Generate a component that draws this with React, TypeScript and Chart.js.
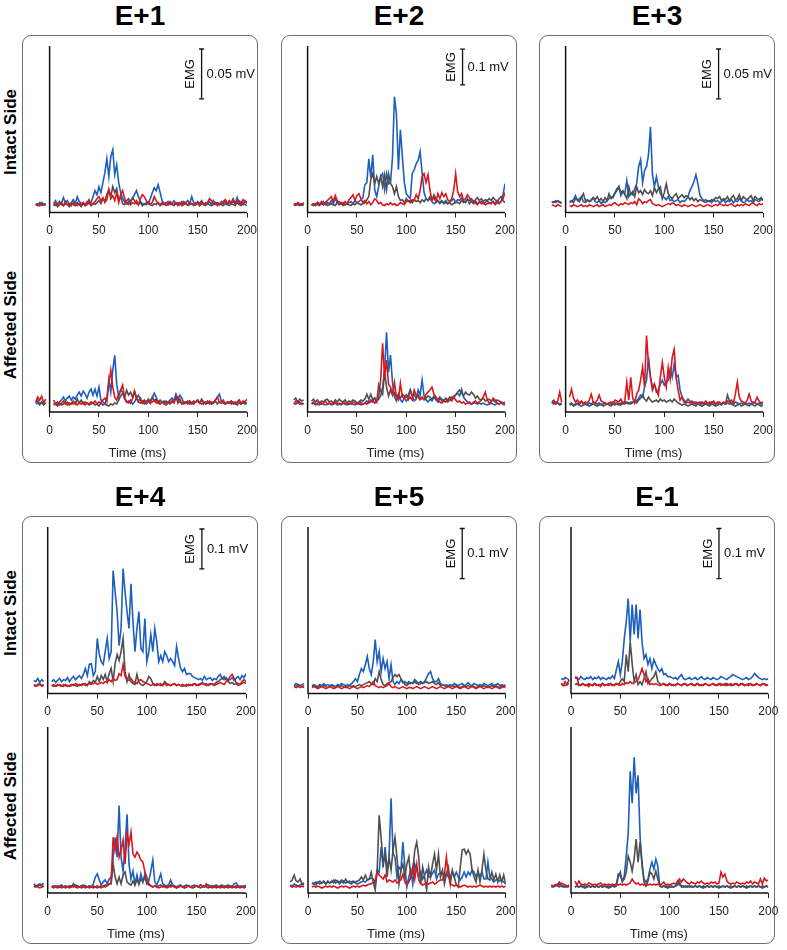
import React, { useEffect, useRef } from "react";
import { Chart, registerables } from "chart.js";

Chart.register(...registerables);

const FONT = '"Liberation Sans", Arial, Helvetica, sans-serif';
const RED = "#d7191e";
const GRAY = "#4f4f4f";
const BLUE = "#1c5fbe";

const TIME_TICKS = [0, 50, 100, 150, 200];
const X_MIN = -22;
const X_MAX = 200;

// sampling times (ms)
const POST_TIME = [
  4, 6, 8, 10, 12, 14, 16, 18, 20, 22,
  24, 26, 28, 30, 32, 34, 36, 38, 40, 42,
  44, 46, 48, 50, 52, 54, 56, 58, 60, 62,
  64, 66, 68, 70, 72, 74, 76, 78, 80, 82,
  84, 86, 88, 90, 92, 94, 96, 98, 100, 102,
  104, 106, 108, 110, 112, 114, 116, 118, 120, 122,
  124, 126, 128, 130, 132, 134, 136, 138, 140, 142,
  144, 146, 148, 150, 152, 154, 156, 158, 160, 162,
  164, 166, 168, 170, 172, 174, 176, 178, 180, 182,
  184, 186, 188, 190, 192, 194, 196, 198, 200,
];
const GAP_TIME = [0];
const PRE_E1 = [-14, -12, -10, -8, -6, -4];
const PRE_E2 = [-14, -12, -10, -8, -6, -4];
const PRE_E3 = [-14, -12, -10, -8, -6, -4];
const PRE_E4 = [-14, -12, -10, -8, -6, -4];
const PRE_E5 = [-18, -16, -14, -12, -10, -8, -6, -4];
const PRE_EM1 = [-20, -18, -16, -14, -12, -10, -8, -6, -4, -2];

// ---------- E+1 (µV) ----------
const e1IntactBlue = [9, 7, 10, 8, 9, 8, null,
  9, 12, 8, 11, 9, 15, 10, 12, 8, 10,
  13, 9, 16, 11, 9, 10, 8, 11, 9, 10,
  16, 22, 18, 26, 20, 30, 40, 54, 36, 56,
  63, 38, 48, 30, 20, 14, 11, 9, 8, 12,
  14, 18, 22, 16, 11, 9, 8, 10, 9, 14,
  20, 25, 22, 28, 20, 12, 9, 10, 8, 11,
  9, 12, 9, 10, 8, 11, 9, 10, 12, 9,
  16, 10, 8, 11, 9, 12, 8, 10, 9, 11,
  8, 12, 9, 10, 8, 11, 9, 12, 8, 10,
  9, 11, 9, 15, 9, 11, 8, 12, 9];
const e1IntactGray = [8, 9, 7, 10, 8, 7, null,
  7, 9, 6, 8, 10, 7, 9, 8, 6, 9,
  8, 7, 10, 8, 6, 9, 7, 8, 10, 7,
  9, 8, 10, 12, 9, 14, 12, 18, 23, 16,
  26, 20, 24, 12, 16, 9, 8, 12, 14, 10,
  15, 12, 9, 8, 10, 7, 9, 8, 11, 8,
  7, 9, 8, 10, 7, 8, 9, 7, 8, 10,
  8, 7, 9, 8, 10, 7, 8, 9, 7, 8,
  9, 7, 8, 10, 7, 9, 8, 7, 9, 8,
  7, 8, 10, 7, 9, 8, 7, 9, 8, 7,
  9, 8, 7, 10, 8, 7, 9, 8, 7];
const e1IntactRed = [7, 8, 9, 7, 8, 9, null,
  8, 7, 9, 10, 8, 7, 11, 8, 9, 7,
  10, 8, 7, 9, 8, 10, 7, 9, 13, 8,
  9, 11, 14, 16, 12, 15, 10, 13, 23, 14,
  17, 12, 20, 10, 18, 22, 14, 9, 11, 8,
  10, 9, 12, 8, 14, 18, 16, 12, 9, 8,
  10, 16, 12, 9, 8, 10, 8, 9, 11, 8,
  9, 8, 10, 7, 9, 8, 11, 9, 8, 10,
  9, 8, 10, 9, 7, 11, 9, 8, 10, 14,
  12, 9, 8, 10, 9, 8, 11, 13, 9, 12,
  10, 14, 9, 11, 12, 8, 13, 10, 11];
const e1AffectedBlue = [8, 9, 7, 10, 8, 9, null,
  8, 9, 7, 10, 12, 15, 11, 14, 16, 12,
  15, 13, 17, 20, 16, 21, 18, 14, 20, 23,
  17, 23, 16, 25, 12, 10, 8, 14, 33, 20,
  42, 57, 28, 15, 22, 20, 14, 10, 9, 12,
  8, 10, 14, 17, 12, 9, 11, 8, 10, 12,
  14, 19, 15, 9, 8, 10, 11, 9, 10, 12,
  14, 11, 18, 13, 17, 14, 9, 10, 8, 11,
  9, 8, 10, 11, 9, 12, 8, 10, 9, 11,
  8, 10, 12, 15, 18, 11, 9, 8, 10, 9,
  11, 8, 10, 9, 12, 8, 9, 10, 8];
const e1AffectedRed = [10, 15, 12, 16, 9, 13, null,
  12, 8, 10, 7, 9, 11, 8, 10, 7, 9,
  8, 10, 7, 9, 8, 10, 7, 9, 8, 10,
  9, 11, 8, 10, 9, 12, 14, 10, 28, 42,
  25, 15, 12, 18, 22, 27, 14, 10, 11, 9,
  13, 21, 15, 10, 9, 11, 8, 10, 12, 9,
  10, 12, 9, 11, 8, 10, 9, 7, 9, 10,
  11, 9, 14, 15, 10, 9, 8, 10, 9, 11,
  8, 9, 10, 12, 9, 8, 10, 9, 11, 8,
  10, 9, 12, 15, 10, 9, 11, 8, 10, 9,
  11, 9, 8, 10, 12, 9, 11, 10, 13];
const e1AffectedGray = [9, 12, 8, 10, 7, 9, null,
  7, 8, 6, 9, 7, 8, 10, 7, 9, 8,
  11, 8, 13, 9, 12, 8, 10, 9, 7, 8,
  9, 7, 8, 6, 9, 7, 8, 7, 6, 8,
  7, 9, 8, 12, 16, 19, 14, 22, 17, 20,
  15, 21, 13, 11, 14, 9, 12, 10, 13, 9,
  15, 11, 13, 9, 12, 10, 8, 11, 9, 8,
  10, 12, 15, 9, 13, 8, 10, 9, 11, 8,
  9, 11, 10, 12, 9, 13, 10, 8, 9, 10,
  8, 9, 11, 8, 10, 9, 12, 8, 9, 10,
  8, 10, 9, 7, 9, 8, 10, 8, 9];

// ---------- E+2 (µV) ----------
const e2IntactBlue = [22, 25, 22, 20, 25, 22, null,
  22, 25, 20, 28, 22, 25, 31, 22, 28, 25,
  34, 25, 39, 28, 31, 25, 28, 22, 25, 28,
  31, 25, 34, 28, 31, 36, 42, 78, 84, 151,
  98, 162, 64, 45, 73, 101, 109, 64, 109, 81,
  84, 154, 325, 277, 120, 232, 157, 84, 53, 45,
  39, 109, 120, 137, 146, 171, 112, 56, 39, 34,
  39, 31, 25, 28, 34, 25, 31, 28, 34, 25,
  31, 34, 39, 28, 36, 34, 42, 31, 28, 39,
  25, 31, 28, 34, 25, 28, 31, 25, 28, 34,
  25, 28, 31, 25, 34, 28, 31, 50, 81];
const e2IntactGray = [22, 20, 25, 22, 20, 22, null,
  22, 20, 25, 22, 20, 25, 22, 28, 20, 22,
  25, 22, 20, 28, 22, 25, 20, 22, 25, 22,
  20, 25, 22, 28, 25, 22, 25, 28, 36, 45,
  92, 109, 81, 101, 81, 101, 73, 106, 64, 109,
  81, 73, 53, 73, 45, 34, 36, 28, 39, 31,
  34, 28, 36, 31, 34, 28, 36, 31, 39, 34,
  45, 36, 50, 39, 31, 28, 34, 25, 28, 25,
  28, 22, 25, 31, 28, 25, 34, 28, 31, 36,
  34, 39, 31, 36, 42, 34, 39, 31, 36, 34,
  39, 34, 42, 36, 31, 39, 45, 34, 28];
const e2IntactRed = [25, 22, 28, 25, 22, 28, null,
  20, 25, 22, 28, 25, 31, 22, 28, 34, 39,
  45, 31, 48, 34, 25, 28, 22, 31, 25, 36,
  42, 50, 34, 48, 53, 39, 28, 34, 25, 31,
  22, 28, 39, 34, 25, 28, 22, 20, 25, 22,
  28, 22, 25, 20, 22, 28, 25, 22, 31, 34,
  28, 36, 34, 50, 39, 62, 101, 109, 84, 106,
  62, 34, 42, 31, 53, 39, 56, 45, 53, 36,
  31, 39, 62, 109, 59, 45, 53, 34, 39, 50,
  42, 31, 25, 28, 22, 31, 25, 28, 22, 25,
  28, 25, 31, 22, 28, 25, 31, 39, 56];
const e2AffectedBlue = [25, 22, 28, 22, 25, 22, null,
  22, 25, 20, 22, 20, 25, 22, 20, 22, 25,
  20, 22, 25, 20, 22, 20, 25, 22, 20, 22,
  25, 22, 20, 25, 22, 28, 22, 25, 31, 25,
  34, 28, 39, 31, 36, 45, 70, 118, 224, 112,
  160, 84, 42, 31, 50, 34, 28, 39, 31, 36,
  62, 45, 31, 36, 62, 48, 90, 45, 34, 28,
  36, 31, 42, 34, 28, 39, 31, 34, 36, 28,
  34, 42, 39, 48, 53, 45, 64, 42, 34, 28,
  25, 22, 28, 25, 22, 25, 22, 25, 22, 20,
  22, 25, 22, 20, 25, 22, 25, 22, 20];
const e2AffectedRed = [22, 31, 25, 28, 22, 25, null,
  25, 28, 22, 25, 28, 22, 25, 31, 22, 25,
  22, 25, 28, 22, 25, 22, 28, 25, 22, 25,
  22, 28, 25, 22, 25, 20, 22, 25, 22, 31,
  28, 34, 25, 31, 42, 90, 193, 98, 146, 78,
  70, 50, 84, 42, 34, 81, 42, 39, 48, 34,
  42, 34, 62, 48, 42, 34, 39, 36, 50, 56,
  62, 70, 50, 42, 34, 28, 25, 31, 28, 34,
  36, 31, 42, 34, 28, 31, 25, 28, 22, 25,
  28, 22, 25, 31, 25, 28, 34, 42, 56, 34,
  25, 28, 39, 34, 25, 22, 28, 25, 22];
const e2AffectedGray = [34, 39, 28, 36, 31, 34, null,
  31, 36, 28, 34, 25, 31, 28, 34, 36, 28,
  31, 25, 34, 28, 36, 31, 28, 34, 25, 31,
  28, 34, 31, 25, 28, 34, 31, 36, 50, 36,
  50, 34, 39, 28, 76, 59, 50, 112, 70, 45,
  62, 48, 53, 42, 48, 39, 50, 45, 42, 48,
  62, 45, 50, 39, 48, 36, 42, 34, 39, 45,
  42, 36, 45, 39, 34, 42, 36, 31, 39, 34,
  42, 36, 45, 48, 56, 62, 53, 45, 56, 50,
  48, 56, 50, 39, 45, 36, 34, 39, 31, 34,
  36, 31, 34, 28, 34, 31, 28, 25, 28];

// ---------- E+3 (µV) ----------
const e3IntactBlue = [11, 10, 12, 11, 10, 9, null,
  10, 11, 13, 17, 12, 14, 16, 11, 10, 12,
  11, 13, 15, 11, 10, 12, 9, 11, 10, 12,
  14, 16, 15, 19, 22, 26, 17, 21, 19, 32,
  16, 20, 18, 24, 29, 46, 53, 30, 42, 46,
  58, 86, 38, 26, 36, 26, 19, 16, 15, 13,
  16, 12, 13, 11, 12, 13, 10, 12, 11, 13,
  16, 22, 26, 31, 38, 29, 18, 14, 12, 13,
  11, 12, 10, 13, 11, 12, 10, 11, 13, 10,
  12, 11, 13, 10, 12, 11, 14, 12, 10, 11,
  13, 11, 12, 10, 13, 12, 11, 13, 14];
const e3IntactGray = [10, 11, 10, 12, 11, 10, null,
  11, 12, 10, 14, 13, 11, 15, 19, 12, 13,
  11, 12, 15, 13, 16, 12, 14, 11, 15, 12,
  19, 14, 16, 20, 24, 26, 20, 22, 18, 14,
  26, 18, 21, 16, 26, 20, 22, 18, 23, 20,
  19, 22, 17, 25, 20, 24, 26, 14, 20, 29,
  19, 16, 14, 17, 19, 14, 16, 18, 15, 17,
  16, 13, 15, 12, 14, 11, 13, 12, 11, 10,
  12, 11, 13, 12, 15, 14, 16, 12, 14, 13,
  16, 12, 15, 17, 13, 14, 18, 12, 16, 14,
  13, 15, 17, 12, 16, 14, 13, 15, 12];
const e3IntactRed = [8, 7, 6, 8, 7, 6, null,
  7, 6, 8, 7, 6, 7, 8, 6, 7, 6,
  8, 7, 6, 7, 8, 6, 7, 8, 6, 7,
  8, 7, 9, 10, 8, 7, 9, 8, 10, 9,
  8, 10, 9, 11, 8, 14, 12, 9, 11, 10,
  12, 13, 9, 8, 7, 8, 7, 6, 7, 8,
  9, 8, 10, 9, 7, 8, 7, 6, 8, 7,
  6, 7, 8, 7, 6, 7, 8, 7, 6, 7,
  8, 7, 6, 7, 8, 7, 9, 8, 7, 8,
  7, 8, 9, 7, 6, 8, 7, 8, 7, 9,
  8, 7, 9, 10, 8, 7, 9, 8, 9];
const e3AffectedRed = [9, 10, 8, 11, 20, 10, null,
  15, 23, 14, 10, 12, 9, 11, 8, 10, 9,
  12, 18, 10, 9, 12, 17, 11, 10, 9, 8,
  9, 10, 8, 12, 11, 10, 13, 9, 11, 30,
  12, 35, 14, 9, 18, 22, 32, 45, 25, 77,
  48, 35, 22, 28, 22, 17, 35, 50, 35, 25,
  45, 33, 55, 63, 35, 22, 12, 15, 10, 9,
  10, 9, 11, 8, 10, 9, 8, 10, 9, 11,
  8, 10, 9, 11, 8, 10, 9, 8, 10, 9,
  11, 10, 12, 9, 18, 30, 15, 11, 10, 9,
  12, 18, 11, 9, 10, 15, 11, 9, 10];
const e3AffectedBlue = [9, 8, 10, 9, 8, 9, null,
  8, 9, 7, 8, 9, 8, 10, 9, 8, 7,
  9, 8, 10, 9, 8, 9, 7, 8, 9, 8,
  9, 8, 10, 9, 8, 7, 9, 8, 10, 9,
  8, 10, 9, 12, 11, 14, 17, 15, 25, 32,
  55, 35, 25, 28, 20, 22, 28, 32, 27, 30,
  32, 43, 35, 48, 35, 37, 22, 15, 12, 10,
  13, 11, 9, 10, 8, 9, 10, 8, 9, 8,
  9, 8, 10, 9, 8, 9, 10, 8, 9, 8,
  9, 8, 9, 8, 10, 9, 8, 9, 8, 9,
  8, 9, 8, 10, 9, 8, 9, 8, 9];
const e3AffectedGray = [10, 12, 8, 9, 7, 8, null,
  7, 8, 6, 7, 8, 7, 6, 7, 8, 7,
  6, 7, 8, 7, 6, 7, 8, 6, 7, 8,
  7, 6, 8, 7, 9, 8, 7, 9, 8, 10,
  9, 8, 10, 11, 9, 12, 14, 17, 13, 11,
  15, 12, 10, 11, 12, 10, 13, 11, 12, 10,
  11, 12, 10, 13, 11, 9, 8, 7, 8, 7,
  6, 7, 8, 7, 6, 8, 7, 6, 7, 8,
  7, 6, 8, 7, 6, 7, 8, 7, 9, 8,
  17, 11, 8, 7, 6, 7, 8, 6, 7, 8,
  7, 6, 8, 7, 6, 8, 7, 6, 7];

// ---------- E+4 (µV) ----------
const e4IntactBlue = [33, 30, 38, 28, 35, 30, null,
  30, 35, 28, 33, 38, 30, 35, 33, 40, 30,
  38, 43, 35, 40, 45, 38, 48, 63, 45, 73,
  75, 45, 55, 138, 98, 80, 73, 105, 138, 88,
  105, 308, 255, 205, 120, 163, 313, 255, 205, 163,
  275, 180, 105, 163, 205, 113, 105, 188, 80, 105,
  148, 105, 163, 130, 80, 95, 80, 105, 95, 80,
  88, 80, 70, 118, 88, 63, 55, 63, 48, 50,
  50, 43, 40, 38, 35, 38, 33, 43, 35, 38,
  40, 33, 38, 35, 43, 48, 38, 35, 40, 33,
  35, 40, 33, 38, 43, 35, 45, 40, 50];
const e4IntactGray = [23, 20, 23, 25, 20, 23, null,
  20, 23, 18, 20, 23, 20, 18, 23, 20, 18,
  20, 23, 20, 18, 23, 20, 23, 25, 20, 30,
  25, 33, 28, 43, 30, 45, 35, 48, 30, 50,
  63, 30, 75, 98, 83, 105, 138, 55, 30, 48,
  30, 25, 23, 48, 28, 23, 20, 25, 30, 43,
  38, 25, 23, 20, 23, 25, 20, 30, 25, 23,
  20, 23, 25, 20, 23, 20, 18, 20, 18, 23,
  20, 23, 25, 20, 23, 25, 28, 23, 25, 20,
  23, 25, 23, 28, 30, 35, 38, 43, 35, 30,
  25, 28, 23, 25, 20, 23, 25, 28, 25];
const e4IntactRed = [20, 18, 20, 23, 18, 20, null,
  20, 18, 20, 23, 20, 18, 23, 20, 18, 20,
  23, 20, 25, 23, 20, 23, 25, 20, 23, 25,
  23, 25, 28, 23, 25, 28, 25, 30, 28, 35,
  30, 38, 33, 35, 50, 45, 73, 43, 35, 33,
  38, 30, 28, 25, 33, 35, 30, 28, 25, 23,
  20, 23, 20, 25, 23, 20, 23, 25, 20, 23,
  20, 23, 25, 20, 23, 20, 23, 20, 23, 20,
  23, 20, 25, 23, 20, 23, 25, 23, 20, 23,
  25, 23, 20, 23, 25, 28, 25, 23, 30, 35,
  43, 48, 38, 28, 25, 23, 30, 35, 30];
const e4AffectedBlue = [23, 18, 20, 23, 20, 25, null,
  18, 15, 18, 15, 18, 20, 15, 18, 15, 18,
  18, 15, 20, 18, 15, 18, 20, 18, 15, 18,
  15, 23, 40, 48, 33, 20, 28, 33, 23, 35,
  40, 90, 140, 90, 220, 90, 55, 113, 198, 73,
  35, 55, 23, 45, 23, 48, 28, 48, 23, 30,
  55, 83, 28, 20, 33, 48, 23, 20, 18, 20,
  33, 20, 18, 15, 18, 20, 15, 18, 20, 18,
  15, 18, 20, 18, 15, 20, 18, 15, 18, 20,
  18, 15, 18, 20, 15, 18, 20, 15, 18, 20,
  18, 15, 23, 25, 18, 15, 18, 15, 20];
const e4AffectedRed = [15, 18, 15, 13, 15, 18, null,
  15, 13, 15, 18, 15, 13, 15, 18, 15, 13,
  15, 18, 15, 13, 15, 18, 15, 13, 15, 18,
  15, 13, 15, 18, 15, 13, 18, 15, 20, 23,
  25, 140, 108, 140, 90, 108, 133, 73, 148, 123,
  153, 98, 90, 103, 95, 83, 78, 53, 40, 23,
  18, 15, 18, 15, 13, 15, 18, 15, 13, 15,
  20, 18, 15, 13, 15, 18, 15, 13, 15, 18,
  15, 13, 15, 18, 15, 20, 18, 15, 23, 18,
  15, 13, 15, 18, 15, 13, 15, 18, 15, 13,
  15, 18, 15, 13, 15, 18, 15, 13, 15];
const e4AffectedGray = [18, 15, 18, 20, 18, 15, null,
  15, 18, 15, 13, 15, 18, 15, 13, 15, 18,
  15, 23, 15, 18, 15, 13, 15, 18, 15, 13,
  15, 18, 15, 13, 15, 18, 15, 20, 18, 23,
  23, 73, 40, 23, 40, 23, 45, 53, 28, 23,
  20, 30, 20, 33, 23, 35, 28, 40, 25, 20,
  18, 15, 18, 15, 18, 20, 15, 18, 15, 18,
  15, 18, 15, 13, 15, 18, 15, 13, 15, 18,
  15, 13, 15, 18, 15, 13, 15, 18, 15, 13,
  15, 18, 15, 13, 15, 18, 15, 13, 15, 18,
  15, 13, 15, 18, 15, 13, 15, 18, 15];

// ---------- E+5 (µV) ----------
const e5IntactBlue = [null, null, 16, 20, 18, 16, 18, 20, null,
  16, 18, 16, 14, 18, 16, 20, 16, 18, 16,
  18, 16, 14, 18, 16, 20, 18, 16, 18, 16,
  20, 24, 30, 24, 38, 50, 44, 58, 74, 50,
  38, 64, 108, 64, 84, 44, 70, 50, 64, 30,
  58, 24, 18, 24, 20, 28, 22, 24, 20, 24,
  20, 22, 28, 24, 18, 20, 22, 24, 32, 40,
  44, 30, 24, 24, 30, 20, 18, 16, 18, 16,
  18, 16, 20, 18, 16, 18, 20, 16, 18, 22,
  18, 16, 20, 18, 16, 18, 16, 20, 18, 16,
  18, 20, 16, 18, 20, 16, 18, 16, 18];
const e5IntactGray = [null, null, 16, 14, 18, 16, 14, 16, null,
  14, 16, 14, 12, 16, 14, 16, 14, 12, 14,
  16, 14, 12, 16, 14, 16, 14, 12, 14, 16,
  14, 16, 14, 16, 18, 16, 18, 20, 22, 24,
  20, 18, 30, 24, 44, 28, 18, 16, 20, 22,
  24, 32, 38, 34, 38, 30, 24, 18, 16, 20,
  22, 20, 24, 20, 22, 24, 20, 22, 24, 20,
  22, 24, 20, 18, 22, 16, 18, 16, 14, 16,
  14, 16, 14, 16, 14, 12, 14, 16, 14, 16,
  14, 16, 14, 12, 14, 16, 14, 16, 14, 12,
  14, 16, 14, 16, 14, 12, 16, 14, 16];
const e5IntactRed = [null, null, 14, 12, 14, 12, 14, 12, null,
  12, 14, 12, 10, 12, 14, 12, 10, 12, 14,
  12, 10, 12, 14, 12, 10, 12, 14, 12, 10,
  12, 14, 12, 10, 12, 14, 12, 14, 16, 14,
  18, 24, 16, 14, 12, 14, 12, 14, 16, 20,
  14, 12, 14, 12, 10, 12, 14, 12, 10, 12,
  12, 10, 12, 14, 12, 10, 12, 14, 12, 10,
  12, 14, 12, 10, 12, 14, 12, 10, 12, 14,
  12, 10, 12, 14, 12, 10, 12, 14, 12, 10,
  12, 14, 12, 10, 12, 14, 12, 10, 12, 14,
  12, 10, 12, 14, 12, 10, 12, 14, 12];
const e5AffectedBlue = [16, 14, 18, 16, 14, 16, 18, 16, null,
  18, 20, 16, 22, 18, 20, 24, 18, 22, 20,
  24, 20, 26, 22, 18, 24, 20, 28, 22, 20,
  18, 22, 20, 18, 20, 22, 24, 22, 26, 28,
  30, 28, 18, 46, 42, 92, 52, 92, 46, 72,
  190, 80, 72, 32, 52, 46, 102, 52, 12, 32,
  46, 18, 58, 46, 32, 42, 28, 36, 46, 32,
  32, 40, 46, 28, 38, 40, 42, 32, 40, 32,
  32, 42, 32, 42, 32, 26, 32, 42, 32, 42,
  36, 46, 42, 32, 42, 32, 42, 28, 28, 62,
  32, 28, 22, 26, 28, 24, 26, 22, 18];
const e5AffectedGray = [22, 26, 36, 24, 22, 28, 18, 20, null,
  20, 18, 22, 20, 24, 20, 22, 18, 24, 20,
  22, 26, 20, 24, 22, 26, 24, 20, 22, 24,
  22, 24, 22, 24, 26, 32, 26, 36, 26, 28,
  42, 22, 6, 46, 156, 110, 58, 78, 32, 72,
  46, 86, 112, 72, 18, 46, 58, 32, 58, 72,
  32, 42, 86, 102, 72, 18, 52, 32, 6, 52,
  32, 58, 78, 46, 78, 32, 46, 18, 38, 52,
  18, 46, 32, 16, 12, 52, 86, 88, 78, 86,
  78, 46, 32, 22, 46, 22, 46, 78, 46, 28,
  26, 42, 26, 38, 22, 36, 22, 36, 18];
const e5AffectedRed = [14, 12, 14, 12, 14, 12, 14, 12, null,
  12, 14, 12, 14, 12, 10, 12, 14, 12, 14,
  12, 14, 12, 10, 12, 14, 12, 14, 12, 10,
  12, 14, 12, 14, 12, 14, 16, 14, 16, 18,
  18, 22, 26, 42, 36, 32, 28, 36, 22, 26,
  24, 22, 26, 20, 24, 26, 38, 22, 16, 22,
  32, 52, 28, 58, 26, 18, 16, 18, 20, 18,
  20, 22, 18, 20, 24, 26, 26, 38, 72, 36,
  18, 16, 14, 16, 14, 12, 14, 16, 14, 12,
  14, 12, 14, 12, 14, 16, 14, 12, 14, 12,
  14, 12, 14, 12, 14, 12, 14, 12, 14];

// ---------- E-1 (µV) ----------
const em1IntactBlue = [null, null, null, null, null, 30, 28, 32, 30, 28, null,
  30, 32, 28, 34, 30, 28, 32, 30, 34, 28,
  32, 30, 34, 28, 32, 30, 28, 32, 30, 36,
  30, 48, 64, 38, 64, 110, 144, 190, 104, 178,
  118, 178, 110, 168, 104, 70, 78, 58, 70, 50,
  68, 58, 50, 44, 50, 38, 40, 34, 34, 32,
  30, 32, 28, 34, 38, 30, 28, 30, 32, 28,
  30, 32, 28, 30, 34, 30, 28, 32, 30, 28,
  32, 30, 28, 30, 34, 32, 30, 28, 32, 34,
  38, 36, 34, 32, 30, 28, 30, 32, 28, 30,
  34, 40, 36, 32, 30, 28, 30, 28, 30];
const em1IntactGray = [null, null, null, null, null, 20, 18, 16, 18, 20, null,
  18, 20, 16, 18, 20, 18, 16, 20, 18, 16,
  20, 18, 16, 18, 20, 16, 18, 20, 18, 16,
  18, 20, 18, 24, 30, 24, 78, 44, 104, 60,
  24, 38, 18, 24, 18, 30, 44, 20, 24, 30,
  34, 44, 24, 20, 18, 20, 18, 16, 20, 18,
  16, 18, 20, 18, 16, 20, 18, 16, 18, 20,
  18, 16, 20, 18, 16, 18, 20, 18, 16, 18,
  20, 18, 16, 18, 20, 18, 16, 20, 18, 16,
  18, 20, 18, 16, 20, 18, 16, 18, 20, 18,
  16, 18, 20, 18, 16, 18, 20, 18, 16];
const em1IntactRed = [null, null, null, null, null, 20, 16, 24, 18, 28, null,
  34, 32, 18, 16, 20, 16, 18, 14, 18, 16,
  20, 16, 18, 14, 20, 16, 18, 16, 20, 18,
  16, 20, 18, 16, 20, 18, 22, 20, 24, 20,
  22, 24, 28, 38, 50, 38, 24, 30, 18, 20,
  18, 20, 18, 16, 18, 20, 16, 18, 20, 16,
  18, 16, 20, 18, 16, 18, 20, 16, 18, 20,
  16, 18, 20, 16, 18, 16, 20, 18, 16, 18,
  20, 16, 18, 20, 16, 18, 20, 16, 18, 20,
  16, 18, 20, 16, 18, 20, 16, 18, 16, 20,
  18, 16, 20, 18, 16, 20, 18, 16, 18];
const em1AffectedBlue = [14, 12, 14, 16, 12, 14, 12, 14, 12, 14, null,
  12, 14, 12, 14, 12, 10, 12, 14, 12, 14,
  12, 14, 12, 14, 12, 14, 12, 10, 12, 14,
  12, 14, 34, 42, 22, 34, 74, 120, 244, 180,
  272, 200, 236, 114, 54, 28, 22, 28, 48, 62,
  48, 68, 54, 14, 12, 14, 12, 14, 12, 14,
  12, 14, 16, 22, 12, 14, 12, 14, 12, 14,
  12, 14, 12, 14, 12, 10, 12, 14, 12, 14,
  12, 14, 12, 10, 12, 14, 12, 14, 12, 10,
  12, 14, 12, 14, 12, 14, 12, 10, 12, 14,
  12, 14, 12, 14, 12, 10, 12, 14, 12];
const em1AffectedGray = [12, 14, 16, 14, 22, 16, 14, 12, 14, 12, null,
  12, 14, 12, 14, 12, 14, 12, 14, 12, 14,
  12, 14, 12, 14, 12, 14, 12, 14, 12, 14,
  14, 18, 38, 34, 24, 28, 42, 74, 62, 44,
  68, 108, 62, 102, 62, 22, 14, 24, 42, 38,
  28, 44, 28, 14, 12, 14, 12, 10, 12, 12,
  12, 14, 24, 16, 14, 12, 14, 12, 14, 12,
  12, 14, 12, 14, 12, 14, 12, 14, 12, 14,
  12, 14, 12, 14, 12, 14, 12, 14, 12, 14,
  12, 14, 12, 14, 12, 14, 12, 14, 12, 14,
  12, 14, 12, 14, 12, 14, 12, 14, 12];
const em1AffectedRed = [16, 14, 16, 18, 16, 20, 18, 16, 14, 16, null,
  24, 16, 24, 18, 16, 18, 16, 20, 18, 16,
  18, 16, 18, 20, 16, 18, 16, 18, 16, 18,
  16, 18, 16, 18, 16, 18, 16, 18, 20, 28,
  22, 18, 20, 16, 18, 16, 18, 16, 18, 16,
  18, 16, 18, 16, 18, 22, 16, 18, 16, 18,
  20, 18, 22, 28, 22, 28, 24, 20, 18, 22,
  20, 18, 22, 20, 24, 20, 18, 20, 18, 22,
  20, 22, 18, 20, 42, 32, 38, 24, 20, 18,
  20, 18, 22, 20, 18, 20, 18, 22, 20, 24,
  18, 22, 20, 18, 28, 18, 30, 24, 26];

type Series = { values: (number | null)[]; color: string };
type Bar = { time: number; low: number; high: number; label: string };

const PANELS = [
  {
    title: "E+1", bx: 22, by: 35, axis0: 27.6, axis200: 225, yMax: 167, pre: PRE_E1, side: true,
    bar: { time: 154, low: 114, high: 164, label: "0.05 mV" },
    intact: [e1IntactRed, e1IntactGray, e1IntactBlue],
    affected: [e1AffectedRed, e1AffectedGray, e1AffectedBlue],
  },
  {
    title: "E+2", bx: 281, by: 35, axis0: 26.6, axis200: 224, yMax: 467, pre: PRE_E2, side: false,
    bar: { time: 157, low: 358, high: 458, label: "0.1 mV" },
    intact: [e2IntactRed, e2IntactGray, e2IntactBlue],
    affected: [e2AffectedRed, e2AffectedGray, e2AffectedBlue],
  },
  {
    title: "E+3", bx: 539, by: 35, axis0: 26.6, axis200: 224, yMax: 167, pre: PRE_E3, side: false,
    bar: { time: 155, low: 114, high: 164, label: "0.05 mV" },
    intact: [e3IntactRed, e3IntactGray, e3IntactBlue],
    affected: [e3AffectedRed, e3AffectedGray, e3AffectedBlue],
  },
  {
    title: "E+4", bx: 22, by: 516, axis0: 25.7, axis200: 224, yMax: 417, pre: PRE_E4, side: true,
    bar: { time: 155.5, low: 312, high: 412, label: "0.1 mV" },
    intact: [e4IntactRed, e4IntactGray, e4IntactBlue],
    affected: [e4AffectedRed, e4AffectedGray, e4AffectedBlue],
  },
  {
    title: "E+5", bx: 281, by: 516, axis0: 27, axis200: 224.7, yMax: 333, pre: PRE_E5, side: false,
    bar: { time: 156, low: 230, high: 330, label: "0.1 mV" },
    intact: [e5IntactRed, e5IntactGray, e5IntactBlue],
    affected: [e5AffectedRed, e5AffectedGray, e5AffectedBlue],
  },
  {
    title: "E-1", bx: 539, by: 516, axis0: 32, axis200: 229.3, yMax: 333, pre: PRE_EM1, side: false,
    bar: { time: 150, low: 230, high: 330, label: "0.1 mV" },
    intact: [em1IntactRed, em1IntactGray, em1IntactBlue],
    affected: [em1AffectedRed, em1AffectedGray, em1AffectedBlue],
  },
];

const SERIES_COLORS = [RED, GRAY, BLUE];

const overlayPlugin = {
  id: "overlay",
  beforeDatasetsDraw(chart: any) {
    const { ctx, chartArea } = chart;
    const xs = chart.scales.x;
    const ys = chart.scales.y;
    const x0 = xs.getPixelForValue(0);
    const x1 = xs.getPixelForValue(200);
    const yb = ys.getPixelForValue(0);
    ctx.save();
    ctx.strokeStyle = "#111";
    ctx.lineWidth = 1.5;
    ctx.beginPath();
    ctx.moveTo(x0, chartArea.top);
    ctx.lineTo(x0, yb);
    ctx.lineTo(x1, yb);
    ctx.stroke();
    ctx.restore();
  },
  afterDatasetsDraw(chart: any, _args: any, opts: any) {
    const bar = opts && opts.bar;
    if (!bar) return;
    const { ctx } = chart;
    const xs = chart.scales.x;
    const ys = chart.scales.y;
    const xb = xs.getPixelForValue(bar.time);
    const ym = (ys.getPixelForValue(bar.low) + ys.getPixelForValue(bar.high)) / 2;
    ctx.save();
    ctx.fillStyle = "#111";
    ctx.font = `13px ${FONT}`;
    ctx.textAlign = "left";
    ctx.textBaseline = "middle";
    ctx.fillText(bar.label, xb + 5, ym);
    ctx.translate(xb - 11, ym);
    ctx.rotate(-Math.PI / 2);
    ctx.textAlign = "center";
    ctx.fillText("EMG", 0, 0);
    ctx.restore();
  },
};

type TraceProps = {
  left: number; top: number; width: number; height: number;
  padding: { left: number; right: number; top: number; bottom: number };
  times: number[]; series: Series[]; yMax: number; bar: Bar | null; showTitle: boolean;
};

function TraceChart(p: TraceProps) {
  const ref = useRef<HTMLCanvasElement>(null);
  useEffect(() => {
    const canvas = ref.current;
    if (!canvas) return;
    const datasets: any[] = p.series.map((s) => ({
      data: p.times.map((t, i) => ({ x: t, y: s.values[i] ?? null })),
      borderColor: s.color,
      borderWidth: 1.6,
      pointRadius: 0,
      tension: 0,
      spanGaps: false,
      fill: false,
    }));
    if (p.bar) {
      datasets.push({
        data: [{ x: p.bar.time, y: p.bar.low }, { x: p.bar.time, y: p.bar.high }],
        borderColor: "#111",
        borderWidth: 1.3,
        pointStyle: "line",
        pointRadius: 2.5,
        pointBorderColor: "#111",
        pointBorderWidth: 1.3,
        pointHoverRadius: 0,
        fill: false,
      });
    }
    const chart = new Chart(canvas, {
      type: "line",
      data: { datasets },
      options: {
        responsive: false,
        maintainAspectRatio: false,
        animation: false,
        events: [],
        layout: { padding: p.padding },
        plugins: {
          legend: { display: false },
          tooltip: { enabled: false },
          overlay: { bar: p.bar },
        } as any,
        scales: {
          x: {
            type: "linear",
            min: X_MIN,
            max: X_MAX,
            afterBuildTicks: (scale: any) => {
              scale.ticks = TIME_TICKS.map((v) => ({ value: v }));
            },
            grid: { drawOnChartArea: false, drawTicks: true, tickLength: 5, color: "#222", lineWidth: 1 },
            border: { display: false },
            ticks: { padding: 6, autoSkip: false, maxRotation: 0, color: "#222", font: { family: FONT, size: 12 } },
            title: {
              display: p.showTitle,
              text: "Time (ms)",
              color: "#222",
              font: { family: FONT, size: 13 },
              padding: { top: 2, bottom: 2 },
            },
          },
          y: { display: false, min: 0, max: p.yMax },
        },
      } as any,
      plugins: [overlayPlugin as any],
    });
    return () => chart.destroy();
  }, []);
  return (
    <canvas
      ref={ref}
      width={p.width}
      height={p.height}
      style={{ position: "absolute", left: p.left, top: p.top, width: p.width, height: p.height }}
    />
  );
}

const CANVAS_W = 246;

const sideLabelStyle = (cy: number): React.CSSProperties => ({
  position: "absolute", left: 10.5 - 100, top: cy - 10, width: 200, height: 20,
  lineHeight: "20px", textAlign: "center", fontWeight: 700, fontSize: 17,
  transform: "rotate(-90deg)", color: "#000",
});

function Panel({ cfg }: { cfg: (typeof PANELS)[number] }) {
  const times = [...cfg.pre, ...GAP_TIME, ...POST_TIME];
  const s = (cfg.axis200 - cfg.axis0) / 200;
  const padLeft = cfg.axis0 + X_MIN * s;
  const padRight = CANVAS_W - cfg.axis200;
  const mk = (arrs: (number | null)[][]): Series[] => arrs.map((a, i) => ({ values: a, color: SERIES_COLORS[i] }));
  return (
    <>
      <div
        style={{
          position: "absolute", left: cfg.bx, top: cfg.by - 36, width: 236, height: 34,
          lineHeight: "34px", textAlign: "center", fontSize: 28, fontWeight: 700, color: "#000",
        }}
      >
        {cfg.title}
      </div>
      <div
        style={{
          position: "absolute", left: cfg.bx, top: cfg.by, width: 236, height: 428,
          boxSizing: "border-box", border: "1px solid #6e6e6e", borderRadius: 9,
        }}
      />
      {cfg.side && (
        <>
          <div style={sideLabelStyle(cfg.by + 97)}>Intact Side</div>
          <div style={sideLabelStyle(cfg.by + 290)}>Affected Side</div>
        </>
      )}
      <TraceChart
        left={cfg.bx} top={cfg.by} width={CANVAS_W} height={210}
        padding={{ left: padLeft, right: padRight, top: 11, bottom: 1 }}
        times={times} series={mk(cfg.intact)} yMax={cfg.yMax} bar={cfg.bar} showTitle={false}
      />
      <TraceChart
        left={cfg.bx} top={cfg.by + 206} width={CANVAS_W} height={222}
        padding={{ left: padLeft, right: padRight, top: 5, bottom: 0 }}
        times={times} series={mk(cfg.affected)} yMax={cfg.yMax} bar={null} showTitle={true}
      />
    </>
  );
}

export default function App() {
  return (
    <div
      style={{
        position: "absolute", left: 0, top: 0, width: 787, height: 950, overflow: "hidden",
        background: "#fff", fontFamily: FONT,
      }}
    >
      {PANELS.map((cfg) => (
        <Panel key={cfg.title} cfg={cfg} />
      ))}
    </div>
  );
}
